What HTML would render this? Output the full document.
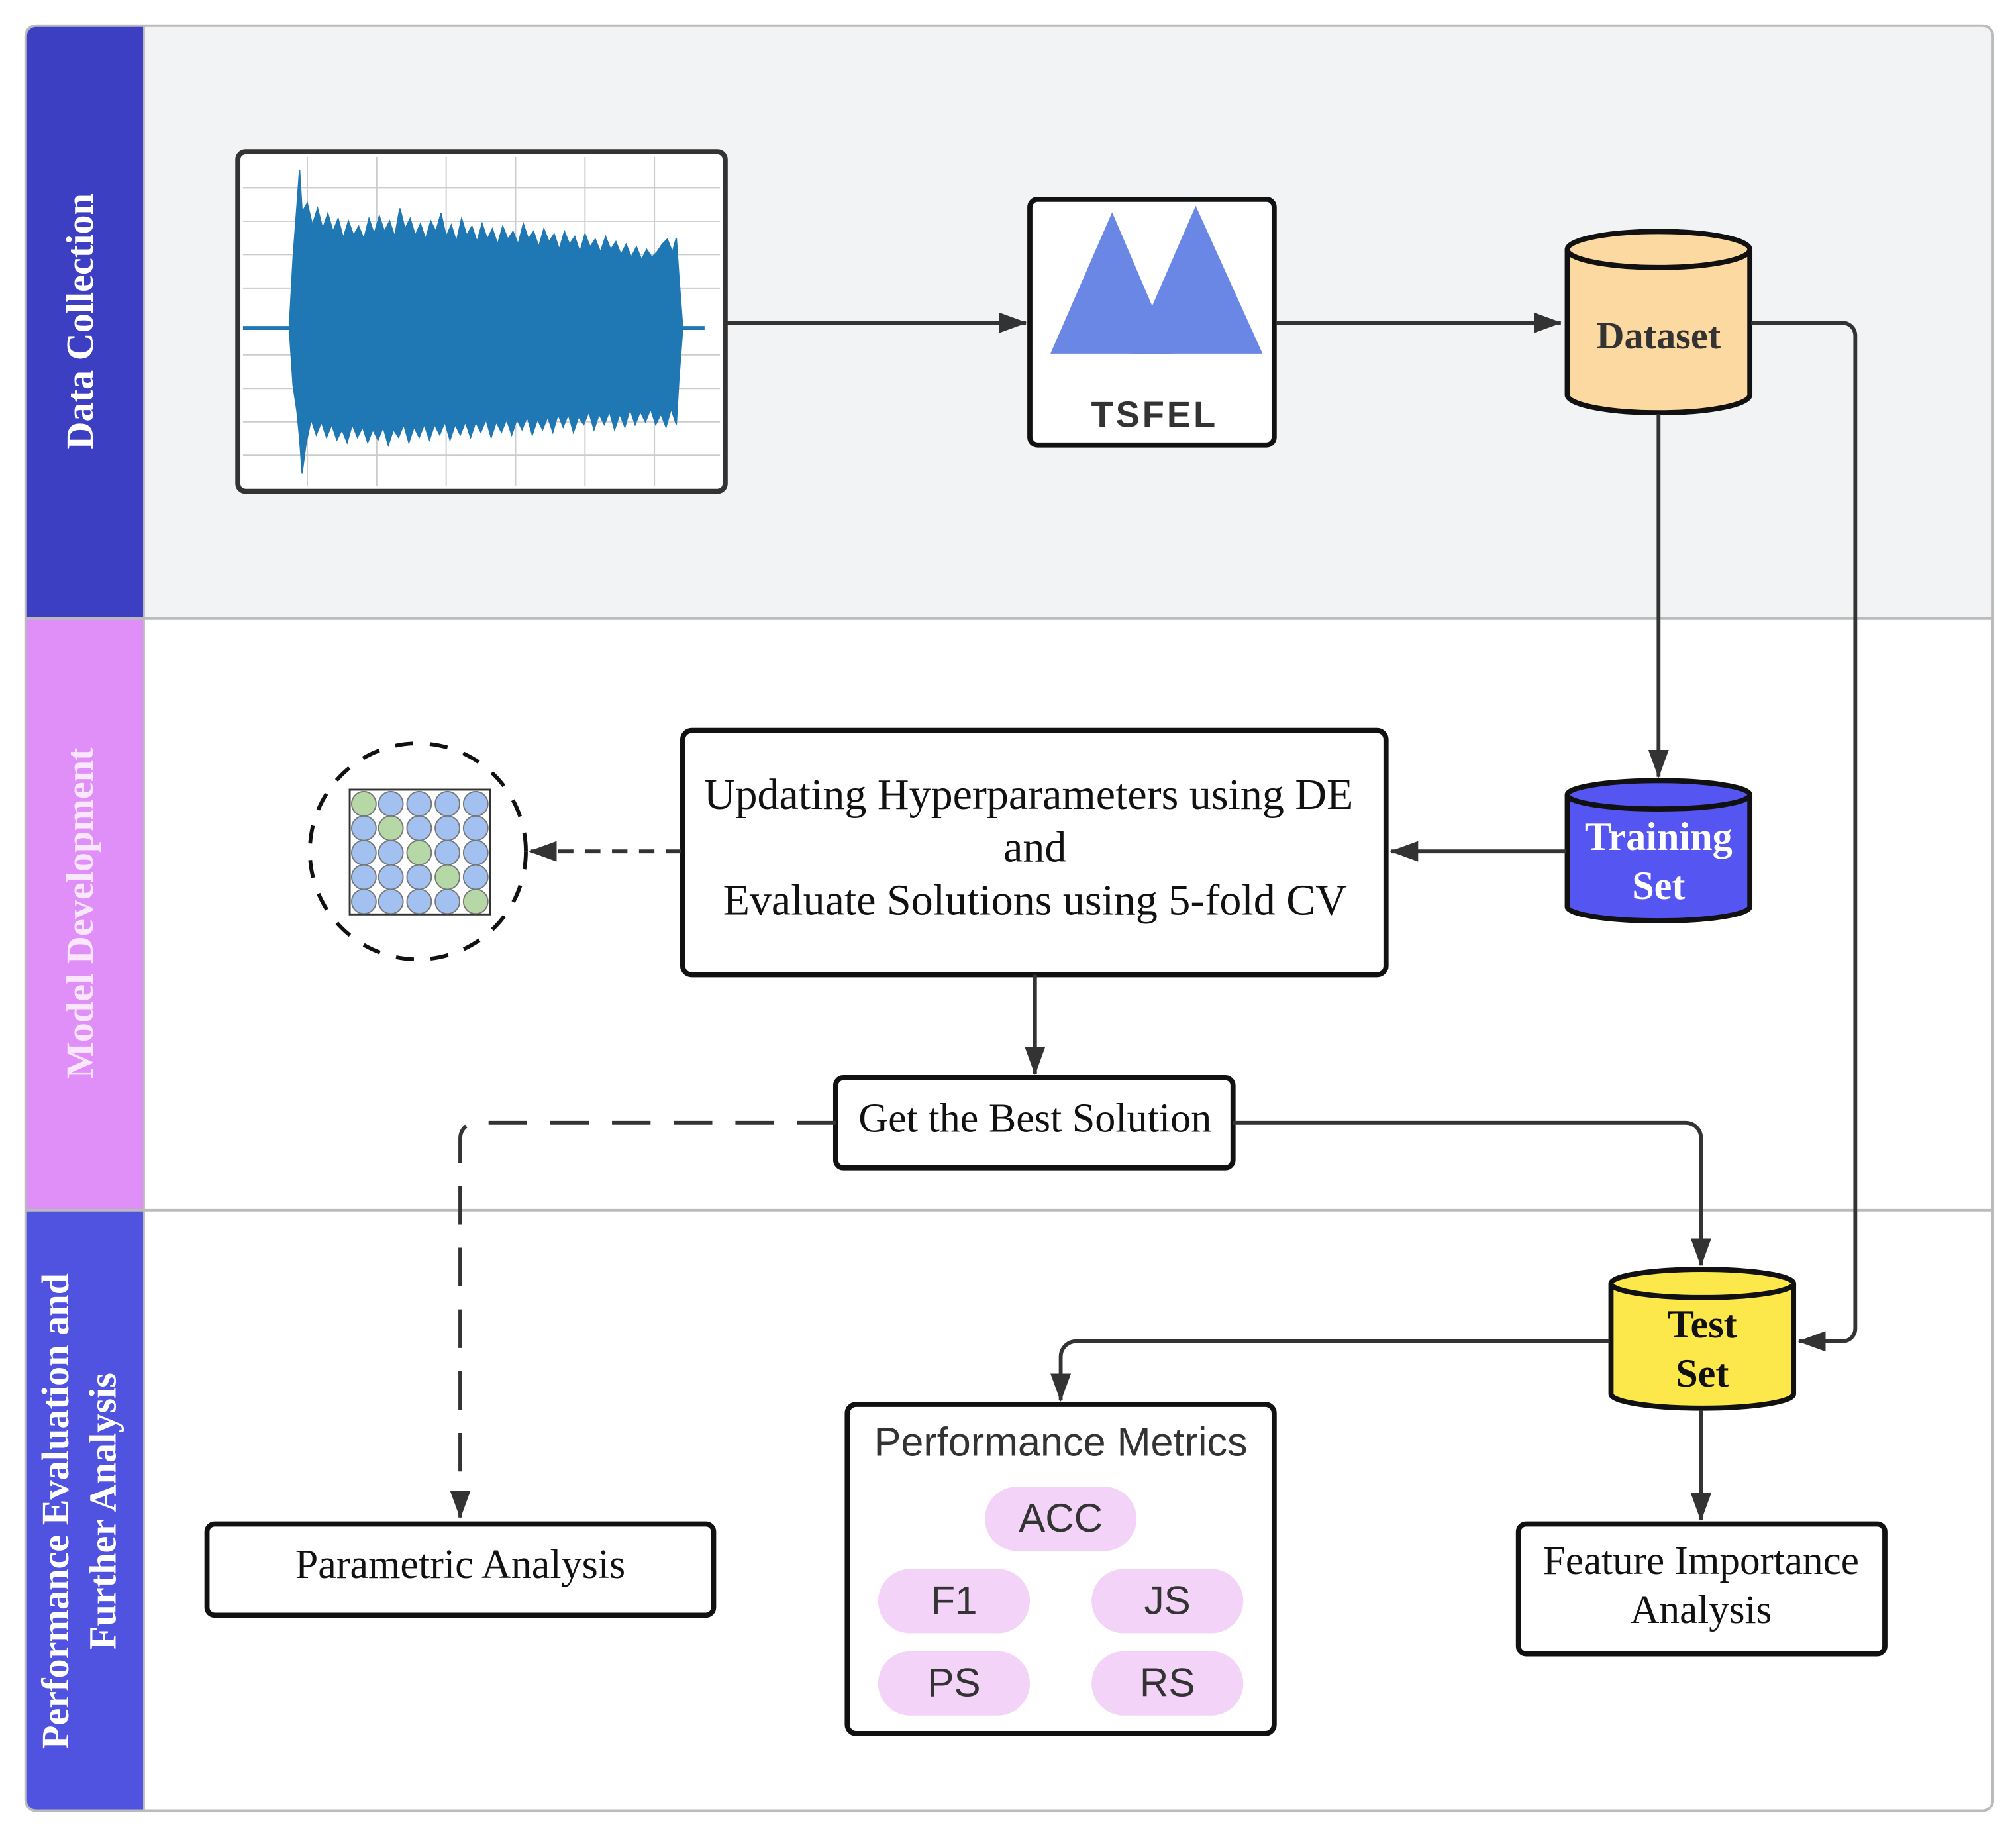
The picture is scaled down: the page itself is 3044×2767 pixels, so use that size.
<!DOCTYPE html>
<html><head><meta charset="utf-8"><style>
html,body{margin:0;padding:0;background:#fff}
svg{display:block}
.serif{font-family:"Liberation Serif",serif}
.sans{font-family:"Liberation Sans",sans-serif}
</style></head><body>
<svg width="3044" height="2767" viewBox="0 0 1568 1425.3" preserveAspectRatio="none" xmlns="http://www.w3.org/2000/svg">
<defs>
<marker id="ah2" markerWidth="22" markerHeight="16" refX="21" refY="8" orient="auto" markerUnits="userSpaceOnUse" viewBox="0 0 22 16">
<path d="M0,0 L22,8 L0,16 z" fill="#333"/></marker>
</defs>
<!-- lanes -->
<rect x="20" y="20" width="1530" height="1388" rx="8" fill="#fff" stroke="#bbb" stroke-width="2"/>
<path d="M112,20 H1542 a8,8 0 0 1 8,8 V481 H112 Z" fill="#f2f3f5"/>
<path d="M28,20 H112 V481 H20 V28 a8,8 0 0 1 8,-8Z" fill="#3c3fc2"/>
<rect x="20" y="481" width="92" height="460" fill="#df8ff7"/>
<path d="M20,941 H112 V1408 H28 a8,8 0 0 1 -8,-8Z" fill="#5052e0"/>
<line x1="20" y1="481" x2="1550" y2="481" stroke="#bbb" stroke-width="2"/>
<line x1="20" y1="941" x2="1550" y2="941" stroke="#bbb" stroke-width="2"/>
<line x1="112" y1="20" x2="112" y2="1408" stroke="#bbb" stroke-width="1.5"/>
<rect x="20" y="20" width="1530" height="1388" rx="8" fill="none" stroke="#bbb" stroke-width="2"/>
<text class="serif" font-weight="bold" font-size="30" fill="#fff" text-anchor="middle" transform="translate(72,250) rotate(-90)">Data Collection</text>
<text class="serif" font-weight="bold" font-size="30" fill="#fbe6ff" text-anchor="middle" transform="translate(72,710) rotate(-90)">Model Development</text>
<text class="serif" font-weight="bold" font-size="30" fill="#fff" text-anchor="middle" transform="translate(53,1175) rotate(-90)">Performance Evaluation and</text>
<text class="serif" font-weight="bold" font-size="30" fill="#fff" text-anchor="middle" transform="translate(90,1175) rotate(-90)">Further Analysis</text>

<!-- waveform box -->
<rect x="185" y="118" width="379" height="264" rx="6" fill="#fff" stroke="#333" stroke-width="4"/>
<g stroke="#ccc" stroke-width="1">
<line x1="239" y1="122" x2="239" y2="378"/><line x1="293" y1="122" x2="293" y2="378"/><line x1="347" y1="122" x2="347" y2="378"/><line x1="401" y1="122" x2="401" y2="378"/><line x1="455" y1="122" x2="455" y2="378"/><line x1="509" y1="122" x2="509" y2="378"/>
<line x1="189" y1="146" x2="560" y2="146"/><line x1="189" y1="172" x2="560" y2="172"/><line x1="189" y1="198" x2="560" y2="198"/><line x1="189" y1="224" x2="560" y2="224"/><line x1="189" y1="276" x2="560" y2="276"/><line x1="189" y1="302" x2="560" y2="302"/><line x1="189" y1="328" x2="560" y2="328"/><line x1="189" y1="354" x2="560" y2="354"/>
</g>
<line x1="189" y1="255" x2="548" y2="255" stroke="#1f77b4" stroke-width="3"/>
<path fill="#1f77b4" stroke="#1f77b4" stroke-width="1" d="M225,255 L228,200 L231,160 L233,132 L235,165 L239,158 L243,175 L247,162 L251,178 L255,166 L259,180 L263,170 L267,185 L271,172 L275,183 L279,176 L283,186 L287,170 L291,182 L295,168 L299,180 L303,172 L307,184 L311,162 L315,178 L319,170 L323,183 L327,174 L331,186 L335,172 L339,180 L343,166 L347,184 L351,175 L355,188 L359,170 L363,183 L367,176 L371,188 L375,174 L379,186 L383,178 L387,190 L391,176 L395,186 L399,180 L403,190 L407,174 L411,186 L415,180 L419,192 L423,178 L427,188 L431,182 L435,194 L439,180 L443,190 L447,184 L451,196 L455,182 L459,192 L463,186 L467,196 L471,184 L475,194 L479,188 L483,198 L487,190 L491,200 L495,192 L499,202 L503,194 L507,200 L511,196 L515,190 L519,186 L523,196 L526,185 L528,215 L531,255 L528,295 L526,330 L522,318 L518,332 L514,322 L510,330 L506,318 L502,328 L498,320 L494,330 L490,318 L486,332 L482,322 L478,334 L474,320 L470,330 L466,322 L462,334 L458,320 L454,330 L450,324 L446,336 L442,322 L438,332 L434,322 L430,336 L426,324 L422,334 L418,326 L414,338 L410,324 L406,334 L402,326 L398,338 L394,326 L390,336 L386,328 L382,340 L378,326 L374,336 L370,328 L366,340 L362,328 L358,338 L354,330 L350,342 L346,328 L342,338 L338,330 L334,342 L330,330 L326,340 L322,332 L318,344 L314,330 L310,340 L306,334 L302,346 L298,332 L294,342 L290,334 L286,344 L282,332 L278,340 L274,330 L270,344 L266,334 L262,342 L258,330 L254,340 L250,328 L246,338 L242,326 L238,345 L235,368 L233,340 L231,320 L228,300 Z"/>
<line x1="564" y1="251" x2="798" y2="251" stroke="#333" stroke-width="3" marker-end="url(#ah2)"/>

<!-- TSFEL -->
<rect x="801" y="155" width="190" height="191" rx="6" fill="#fff" stroke="#111" stroke-width="4"/>
<polygon points="865,165 912,275 817,275" fill="#6b87e6"/>
<polygon points="930,160 982,275 880,275" fill="#6b87e6"/>
<text class="sans" font-weight="bold" font-size="28" fill="#333" text-anchor="middle" x="898" y="332" letter-spacing="2">TSFEL</text>
<line x1="993" y1="251" x2="1214" y2="251" stroke="#333" stroke-width="3" marker-end="url(#ah2)"/>

<!-- Dataset -->
<path d="M1219,194 V307 A71,14 0 0 0 1361,307 V194" fill="#fcd9a0" stroke="#111" stroke-width="4"/>
<ellipse cx="1290" cy="194" rx="71" ry="14" fill="#fcd9a0" stroke="#111" stroke-width="4"/>
<text class="serif" font-weight="bold" font-size="30" fill="#333" text-anchor="middle" x="1290" y="271">Dataset</text>
<path d="M1362,251 H1433 a10,10 0 0 1 10,10 V1033 a10,10 0 0 1 -10,10 H1399" fill="none" stroke="#333" stroke-width="3" marker-end="url(#ah2)"/>
<line x1="1290" y1="322" x2="1290" y2="604" stroke="#333" stroke-width="3" marker-end="url(#ah2)"/>

<!-- Training -->
<path d="M1219,618 V705 A71,11 0 0 0 1361,705 V618" fill="#5555f2" stroke="#111" stroke-width="4"/>
<ellipse cx="1290" cy="618" rx="71" ry="11" fill="#5555f2" stroke="#111" stroke-width="4"/>
<text class="serif" font-weight="bold" font-size="31" fill="#fff" text-anchor="middle" x="1290" y="661">Training</text>
<text class="serif" font-weight="bold" font-size="31" fill="#fff" text-anchor="middle" x="1290" y="699">Set</text>
<line x1="1218" y1="662" x2="1082" y2="662" stroke="#333" stroke-width="3" marker-end="url(#ah2)"/>

<!-- Updating -->
<rect x="531" y="568" width="547" height="190" rx="7" fill="#fff" stroke="#111" stroke-width="4"/>
<text class="serif" font-size="34" fill="#111" text-anchor="middle" x="800" y="629">Updating Hyperparameters using DE</text>
<text class="serif" font-size="34" fill="#111" text-anchor="middle" x="805" y="670">and</text>
<text class="serif" font-size="34" fill="#111" text-anchor="middle" x="805" y="711">Evaluate Solutions using 5-fold CV</text>
<line x1="530" y1="662" x2="412" y2="662" stroke="#333" stroke-width="3" stroke-dasharray="12,9" marker-end="url(#ah2)"/>

<!-- circle grid -->
<circle cx="325" cy="662" r="84" fill="none" stroke="#111" stroke-width="3" stroke-dasharray="14,13"/>
<rect x="272" y="614" width="109" height="97" fill="#fff" stroke="#333" stroke-width="1.5"/>
<g stroke="#777" stroke-width="1">
<circle cx="283" cy="625" r="9.5" fill="#b5d8a6"/><circle cx="304" cy="625" r="9.5" fill="#a2c0f0"/><circle cx="326" cy="625" r="9.5" fill="#a2c0f0"/><circle cx="348" cy="625" r="9.5" fill="#a2c0f0"/><circle cx="370" cy="625" r="9.5" fill="#a2c0f0"/>
<circle cx="283" cy="644" r="9.5" fill="#a2c0f0"/><circle cx="304" cy="644" r="9.5" fill="#b5d8a6"/><circle cx="326" cy="644" r="9.5" fill="#a2c0f0"/><circle cx="348" cy="644" r="9.5" fill="#a2c0f0"/><circle cx="370" cy="644" r="9.5" fill="#a2c0f0"/>
<circle cx="283" cy="663" r="9.5" fill="#a2c0f0"/><circle cx="304" cy="663" r="9.5" fill="#a2c0f0"/><circle cx="326" cy="663" r="9.5" fill="#b5d8a6"/><circle cx="348" cy="663" r="9.5" fill="#a2c0f0"/><circle cx="370" cy="663" r="9.5" fill="#a2c0f0"/>
<circle cx="283" cy="682" r="9.5" fill="#a2c0f0"/><circle cx="304" cy="682" r="9.5" fill="#a2c0f0"/><circle cx="326" cy="682" r="9.5" fill="#a2c0f0"/><circle cx="348" cy="682" r="9.5" fill="#b5d8a6"/><circle cx="370" cy="682" r="9.5" fill="#a2c0f0"/>
<circle cx="283" cy="701" r="9.5" fill="#a2c0f0"/><circle cx="304" cy="701" r="9.5" fill="#a2c0f0"/><circle cx="326" cy="701" r="9.5" fill="#a2c0f0"/><circle cx="348" cy="701" r="9.5" fill="#a2c0f0"/><circle cx="370" cy="701" r="9.5" fill="#b5d8a6"/>
</g>

<line x1="805" y1="758" x2="805" y2="835" stroke="#333" stroke-width="3" marker-end="url(#ah2)"/>
<!-- Best -->
<rect x="650" y="838" width="309" height="70" rx="6" fill="#fff" stroke="#111" stroke-width="4"/>
<text class="serif" font-size="32" fill="#111" text-anchor="middle" x="805" y="880">Get the Best Solution</text>
<path d="M650,873 H370 a12,12 0 0 0 -12,12 V1180" fill="none" stroke="#333" stroke-width="3" stroke-dasharray="30,18" marker-end="url(#ah2)"/>
<path d="M959,873 H1311 a12,12 0 0 1 12,12 V984" fill="none" stroke="#333" stroke-width="3" marker-end="url(#ah2)"/>

<!-- Test -->
<path d="M1253,998 V1084 A71,11 0 0 0 1395,1084 V998" fill="#fde84c" stroke="#111" stroke-width="4"/>
<ellipse cx="1324" cy="998" rx="71" ry="11" fill="#fde84c" stroke="#111" stroke-width="4"/>
<text class="serif" font-weight="bold" font-size="31" fill="#111" text-anchor="middle" x="1324" y="1040">Test</text>
<text class="serif" font-weight="bold" font-size="31" fill="#111" text-anchor="middle" x="1324" y="1078">Set</text>
<path d="M1252,1043 H837 a12,12 0 0 0 -12,12 V1089" fill="none" stroke="#333" stroke-width="3" marker-end="url(#ah2)"/>
<line x1="1323" y1="1097" x2="1323" y2="1182" stroke="#333" stroke-width="3" marker-end="url(#ah2)"/>

<!-- Parametric -->
<rect x="161" y="1185" width="394" height="71" rx="6" fill="#fff" stroke="#111" stroke-width="4"/>
<text class="serif" font-size="32" fill="#111" text-anchor="middle" x="358" y="1227">Parametric Analysis</text>

<!-- Perf metrics -->
<rect x="659" y="1092" width="332" height="256" rx="7" fill="#fff" stroke="#111" stroke-width="4"/>
<text class="sans" font-size="31.5" fill="#333" text-anchor="middle" x="825" y="1132">Performance Metrics</text>
<rect x="766" y="1156" width="118" height="50" rx="25" fill="#f3d3f8"/>
<text class="sans" font-size="31" fill="#333" text-anchor="middle" x="825" y="1191">ACC</text>
<rect x="683" y="1220" width="118" height="50" rx="25" fill="#f3d3f8"/>
<text class="sans" font-size="31" fill="#333" text-anchor="middle" x="742" y="1255">F1</text>
<rect x="849" y="1220" width="118" height="50" rx="25" fill="#f3d3f8"/>
<text class="sans" font-size="31" fill="#333" text-anchor="middle" x="908" y="1255">JS</text>
<rect x="683" y="1284" width="118" height="50" rx="25" fill="#f3d3f8"/>
<text class="sans" font-size="31" fill="#333" text-anchor="middle" x="742" y="1319">PS</text>
<rect x="849" y="1284" width="118" height="50" rx="25" fill="#f3d3f8"/>
<text class="sans" font-size="31" fill="#333" text-anchor="middle" x="908" y="1319">RS</text>

<!-- Feature -->
<rect x="1181" y="1185" width="285" height="101" rx="6" fill="#fff" stroke="#111" stroke-width="4"/>
<text class="serif" font-size="31.5" fill="#111" text-anchor="middle" x="1323" y="1224">Feature Importance</text>
<text class="serif" font-size="31.5" fill="#111" text-anchor="middle" x="1323" y="1262">Analysis</text>
</svg>
</body></html>
